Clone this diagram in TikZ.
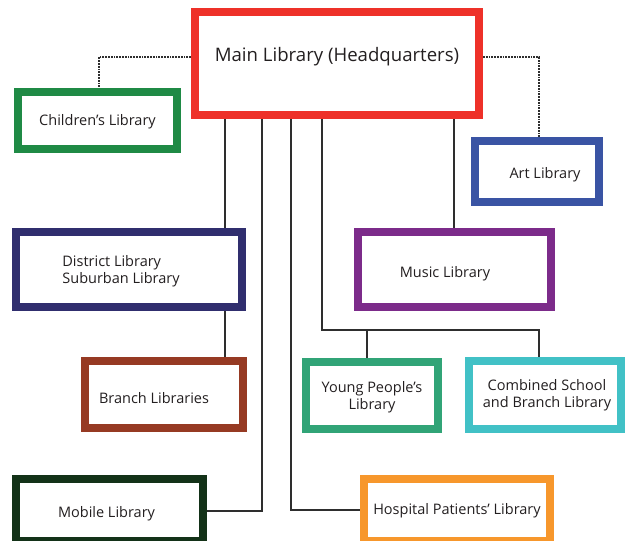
\documentclass[tikz,border=0pt]{standalone}
\usepackage{fontspec}
\setmainfont{Open Sans}
\usetikzlibrary{backgrounds}

\definecolor{txt}{HTML}{231F20}
\definecolor{lnk}{HTML}{2E2E2E}
\definecolor{cMain}{HTML}{EE3129}
\definecolor{cChild}{HTML}{1F8A45}
\definecolor{cArt}{HTML}{3A54A4}
\definecolor{cDist}{HTML}{302E6E}
\definecolor{cBranch}{HTML}{963A23}
\definecolor{cMobile}{HTML}{133218}
\definecolor{cMusic}{HTML}{7C2B8A}
\definecolor{cYoung}{HTML}{31A477}
\definecolor{cComb}{HTML}{41C1C6}
\definecolor{cHosp}{HTML}{F7972C}

\tikzset{
  libbox/.style={draw=#1, line width=8pt, fill=white, rectangle, inner sep=0pt},
  boxtext/.style={font=\fontsize{14.5}{17}\selectfont, text=txt, align=center, inner sep=0pt},
  link/.style={draw=lnk, line width=1.2pt},
  dotlink/.style={draw=lnk, line width=1.1pt, dash pattern=on 1.8pt off 1pt},
}

\begin{document}
\begin{tikzpicture}[x=1pt, y=-1pt]
\useasboundingbox (0,0) rectangle (625,541);

% boxes (sizes measured on the border mid-line)
\node[libbox=cMain, minimum width=284pt, minimum height=103pt] (main) at (337,63.5) {};
\node[boxtext, font=\fontsize{18.6}{22}\selectfont] (maintext) at (337,56.5) {Main Library (Headquarters)};

\node[libbox=cChild, minimum width=159pt, minimum height=57pt,
  label={[boxtext, yshift=-1.5pt]center:Children’s Library}] (children) at (97.5,120.5) {};

\node[libbox=cArt, minimum width=124pt, minimum height=61pt,
  label={[boxtext, xshift=8pt, yshift=-3pt]center:Art Library}] (art) at (537,171.5) {};

\node[libbox=cDist, minimum width=226pt, minimum height=75pt,
  label={[boxtext, align=left, xshift=-8pt, yshift=-1.5pt]center:District Library\\Suburban Library}] (district) at (129,269.5) {};

\node[libbox=cMusic, minimum width=193pt, minimum height=75pt,
  label={[boxtext, xshift=-9.5pt, yshift=-4pt]center:Music Library}] (music) at (454.5,269.5) {};

\node[libbox=cBranch, minimum width=158pt, minimum height=67pt,
  label={[boxtext, xshift=-10pt, yshift=-3.5pt]center:Branch Libraries}] (branch) at (164,394.5) {};

\node[libbox=cYoung, minimum width=132pt, minimum height=67pt,
  label={[boxtext, yshift=-1.5pt]center:Young People’s\\Library}] (young) at (372,395.5) {};

\node[libbox=cComb, minimum width=152pt, minimum height=68pt,
  label={[boxtext, xshift=2pt]center:Combined School\\and Branch Library}] (combined) at (545,395) {};

\node[libbox=cMobile, minimum width=187pt, minimum height=62pt,
  label={[boxtext, xshift=-3pt, yshift=-3.5pt]center:Mobile Library}] (mobile) at (109.5,510) {};

\node[libbox=cHosp, minimum width=186pt, minimum height=62pt,
  label={[boxtext, yshift=-1pt]center:Hospital Patients’ Library}] (hospital) at (457,510) {};

% routing points of the connectors
\coordinate (dl) at (99,57);
\coordinate (dr) at (539,57);
\coordinate (xd) at (225,0);
\coordinate (mb) at (262,511);
\coordinate (hp) at (291,510);
\coordinate (ya) at (322,330);
\coordinate (cb) at (539,330);
\coordinate (yp) at (367,330);
\coordinate (xm) at (454,0);

\begin{scope}[on background layer]
  % dotted links to the special libraries
  \draw[dotlink] (main.west |- dl) -- (dl) -- (children.north -| dl);
  \draw[dotlink] (main.east |- dr) -- (dr) -- (art.north -| dr);
  % solid links
  \draw[link] (main.south -| xd) -- (district.north -| xd);
  \draw[link] (district.south -| xd) -- (branch.north -| xd);
  \draw[link] (main.south -| mb) -- (mb) -- (mobile.east |- mb);
  \draw[link] (main.south -| hp) -- (hp) -- (hospital.west |- hp);
  \draw[link] (main.south -| ya) -- (ya) -- (cb) -- (combined.north -| cb);
  \draw[link] (yp) -- (young.north -| yp);
  \draw[link] (main.south -| xm) -- (music.north -| xm);
\end{scope}
\end{tikzpicture}
\end{document}
